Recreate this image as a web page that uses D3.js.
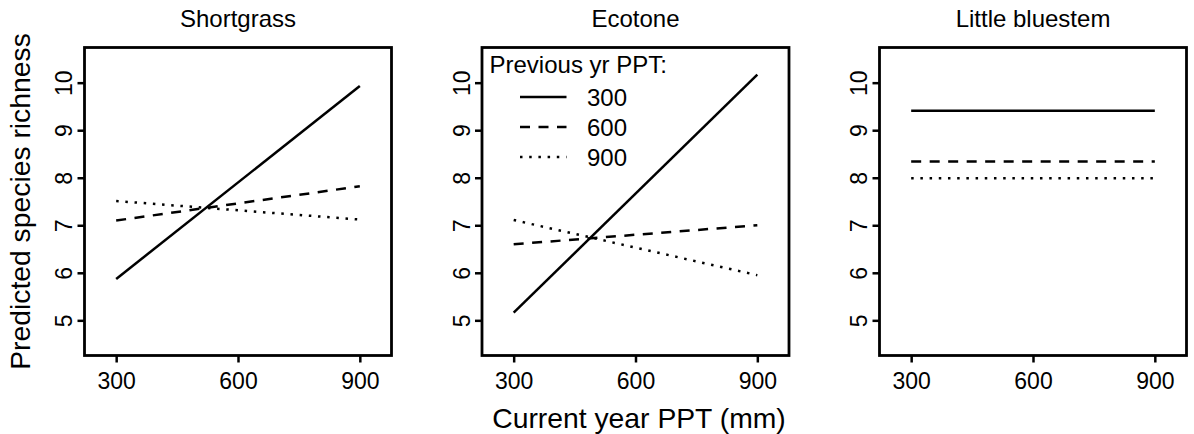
<!DOCTYPE html>
<html>
<head>
<meta charset="utf-8">
<script src="https://cdn.jsdelivr.net/npm/d3@7"></script>
<style>
    body { margin: 0; background: #fff; }
    svg { display: block; font-family: "Liberation Sans", Arial, sans-serif; }
</style>
</head>
<body>
<div id="chart"></div>
<script>
// panel names and the two x points each line is drawn between
const panelNames = ["Shortgrass", "Ecotone", "Little bluestem"];
const prevPPT = [300, 600, 900];          // legend levels
const currPPT = [300, 900];               // x values
const xTicks = [300, 600, 900];
const yTicks = [5, 6, 7, 8, 9, 10];

// predicted richness at currPPT 300 and 900, one row per prevPPT level
const shortgrass = [[5.87, 9.93], [7.10, 7.82], [7.51, 7.12]];
const ecotone    = [[5.16, 10.17], [6.60, 7.00], [7.11, 5.95]];
const bluestem   = [[9.41, 9.41], [8.34, 8.34], [7.99, 7.99]];
const panelData = [shortgrass, ecotone, bluestem];

const lineStyles = [null, "10,8.5", "2.5,6.7"];

const width = 1194, height = 434;
const svg = d3.select("#chart").append("svg")
    .attr("width", width)
    .attr("height", height);

// layout of the three boxes
let box = {left: 84.5, top: 47.5, w: 307, h: 308, step: 397.5};

let x = d3.scaleLinear().domain([222, 978]).range([0, box.w]);
let y = d3.scaleLinear().domain([4.26, 10.74]).range([box.h, 0]);

panelNames.forEach((name, i) => {
    let g = svg.append("g")
        .attr("transform", `translate(${box.left + i * box.step}, ${box.top})`);

    // title
    g.append("text")
        .attr("x", box.w / 2)
        .attr("y", -21)
        .attr("text-anchor", "middle")
        .style("font-size", "24px")
        .text(name);

    // x axis ticks + labels
    let xAxis = g.append("g").attr("transform", `translate(0, ${box.h})`)
        .call(d3.axisBottom(x).tickValues(xTicks).tickFormat(d3.format("d"))
            .tickSize(7).tickSizeOuter(0).tickPadding(10));
    xAxis.select(".domain").remove();
    xAxis.selectAll("line").attr("stroke", "#000").attr("stroke-width", 2.5);
    xAxis.selectAll("text").style("font-size", "23px").attr("fill", "#000");

    // y axis ticks + rotated labels
    let yAxis = g.append("g")
        .call(d3.axisLeft(y).tickValues(yTicks).tickFormat(d3.format("d"))
            .tickSize(7).tickSizeOuter(0));
    yAxis.select(".domain").remove();
    yAxis.selectAll("line").attr("stroke", "#000").attr("stroke-width", 2.5);
    yAxis.selectAll("text")
        .style("font-size", "23px")
        .attr("fill", "#000")
        .attr("x", null).attr("dy", null)
        .attr("text-anchor", "middle")
        .attr("transform", "translate(-12.5,0) rotate(-90)");

    // data lines
    panelData[i].forEach((vals, k) => {
        let pts = currPPT.map((c, j) => [x(c), y(vals[j])]);
        g.append("path")
            .attr("d", d3.line()(pts))
            .attr("fill", "none")
            .attr("stroke", "#000")
            .attr("stroke-width", 2.5)
            .attr("stroke-dasharray", lineStyles[k]);
    });

    // frame
    g.append("rect")
        .attr("width", box.w)
        .attr("height", box.h)
        .attr("fill", "none")
        .attr("stroke", "#000")
        .attr("stroke-width", 2.8);
});

// legend sits inside the Ecotone panel
let leg = svg.append("g")
    .attr("transform", `translate(${box.left + box.step}, ${box.top})`);
leg.append("text")
    .attr("x", 7.5).attr("y", 25.5)
    .style("font-size", "24px")
    .text("Previous yr PPT:");
prevPPT.forEach((p, k) => {
    let ly = 49.5 + k * 30;
    leg.append("line")
        .attr("x1", 38).attr("x2", 84.5)
        .attr("y1", ly).attr("y2", ly)
        .attr("stroke", "#000")
        .attr("stroke-width", 2.5)
        .attr("stroke-dasharray", lineStyles[k]);
    leg.append("text")
        .attr("x", 105).attr("y", ly + 8.5)
        .style("font-size", "24px")
        .text(p);
});

// shared axis titles
svg.append("text")
    .attr("transform", `translate(30, ${box.top + box.h / 2}) rotate(-90)`)
    .attr("text-anchor", "middle")
    .style("font-size", "28.3px")
    .text("Predicted species richness");

svg.append("text")
    .attr("x", 639)
    .attr("y", 428)
    .attr("text-anchor", "middle")
    .style("font-size", "28.3px")
    .text("Current year PPT (mm)");
</script>
</body>
</html>
